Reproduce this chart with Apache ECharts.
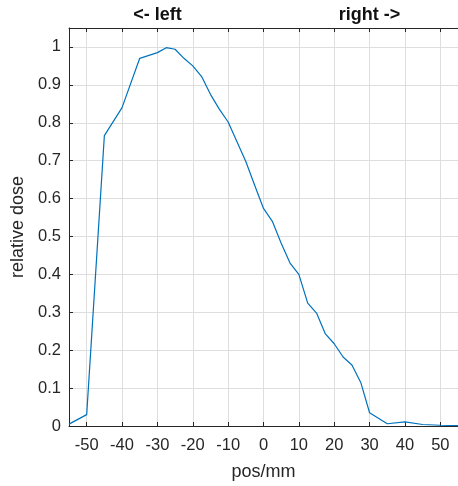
<!DOCTYPE html>
<html lang="en">
<head>
    <meta charset="utf-8">
    <title>relative dose</title>
    <script src="https://cdn.jsdelivr.net/npm/echarts@6.0.0/dist/echarts.min.js"></script>
    <style>
        html, body { margin: 0; padding: 0; background: #fff; }
        #chart { width: 458px; height: 486px; }
    </style>
</head>
<body>
<div id="chart"></div>
<script>
    // position (mm) and relative dose
    var pos = [-55, -50, -45, -40, -35, -30, -27.5, -25, -22.5, -20, -17.5, -15, -12.5, -10,
        -7.5, -5, -2.5, 0, 2.5, 5, 7.5, 10, 12.5, 15, 17.5, 20, 22.5, 25, 27.5, 30,
        35, 40, 45, 50, 55];
    var dose = [0.005, 0.03, 0.766, 0.84, 0.97, 0.985, 0.998, 0.994, 0.97, 0.95, 0.922, 0.875, 0.836, 0.802,
        0.75, 0.698, 0.635, 0.574, 0.54, 0.482, 0.43, 0.40, 0.324, 0.298, 0.243, 0.217, 0.182, 0.161, 0.115, 0.035,
        0.006, 0.011, 0.004, 0.002, 0.001];
    var sideLabels = ['<- left', 'right ->'];
    var sidePos = [-30, 30];

    var axisColor = '#262626';
    var gridColor = '#dedede';
    var font = 'Liberation Sans, Arial, sans-serif';

    var chart = echarts.init(document.getElementById('chart'));
    var option = {
        animation: false,
        grid: { left: 69, right: -11, top: 28, bottom: 56 },
        xAxis: [{
            type: 'value',
            min: -55,
            max: 55,
            splitNumber: 11,
            name: 'pos/mm',
            nameLocation: 'middle',
            nameGap: 37,
            nameTextStyle: { color: axisColor, fontSize: 18, fontFamily: font },
            axisLine: { onZero: false, lineStyle: { color: axisColor, width: 1 } },
            axisTick: { inside: true, length: 4, lineStyle: { color: axisColor } },
            axisLabel: { color: axisColor, fontSize: 16.5, fontFamily: font, margin: 11,
                showMinLabel: false, showMaxLabel: false },
            splitLine: { show: true, lineStyle: { color: gridColor, width: 1 } }
        }, {
            type: 'value',
            position: 'top',
            min: -55,
            max: 55,
            splitNumber: 11,
            axisLine: { show: true, onZero: false, lineStyle: { color: axisColor, width: 1 } },
            axisTick: { show: true, inside: true, length: 4, lineStyle: { color: axisColor } },
            axisLabel: { show: false },
            splitLine: { show: false }
        }],
        yAxis: {
            type: 'value',
            min: 0,
            max: 1.05,
            interval: 0.1,
            name: 'relative dose',
            nameLocation: 'middle',
            nameGap: 32,
            nameTextStyle: { color: axisColor, fontSize: 18, fontFamily: font },
            axisLine: { show: true, onZero: false, lineStyle: { color: axisColor, width: 1 } },
            axisTick: { show: true, inside: true, length: 4, lineStyle: { color: axisColor } },
            axisLabel: {
                color: axisColor, fontSize: 16.5, fontFamily: font, margin: 8,
                showMaxLabel: false,
                formatter: function (v) { return String(Math.round(v * 10) / 10); }
            },
            splitLine: { show: true, lineStyle: { color: gridColor, width: 1 } }
        },
        series: [{
            type: 'line',
            data: pos.map(function (p, i) { return [p, dose[i]]; }),
            showSymbol: false,
            lineStyle: { color: '#0072BD', width: 1.2 },
            clip: true
        }]
    };
    chart.setOption(option);

    // side labels above the plot, placed at their x positions
    chart.setOption({
        graphic: sideLabels.map(function (t, i) {
            return {
                type: 'text',
                x: chart.convertToPixel({ xAxisIndex: 0 }, sidePos[i]),
                y: 15,
                style: {
                    text: t, fill: '#111', fontSize: 18, fontWeight: 'bold', fontFamily: font,
                    align: 'center', verticalAlign: 'middle'
                }
            };
        })
    });
</script>
</body>
</html>
